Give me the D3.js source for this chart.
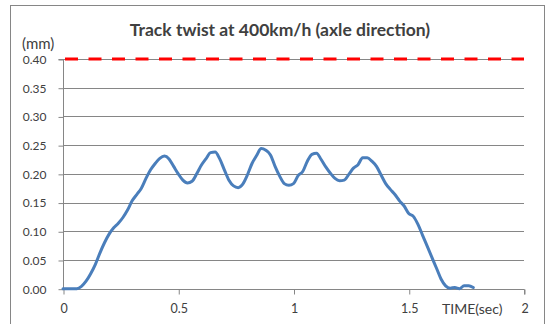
<!DOCTYPE html>
<html>
<head>
<meta charset="utf-8">
<script src="https://cdn.jsdelivr.net/npm/d3@7"></script>
<style>
  html, body { margin: 0; padding: 0; background: #fff; }
  svg { display: block; }
  text { font-family: Lato, "Open Sans", sans-serif; fill: #404040; }
</style>
</head>
<body>
<svg id="chart" width="546" height="324"></svg>
<script>
// Track twist (mm) sampled against time (s)
const timeSec = [0, 0.06, 0.08, 0.10, 0.12, 0.14, 0.16, 0.18, 0.20, 0.22, 0.24, 0.26, 0.28, 0.30,
  0.32, 0.34, 0.36, 0.38, 0.40, 0.42, 0.44, 0.46, 0.48, 0.50, 0.52, 0.54, 0.56, 0.58, 0.60,
  0.62, 0.64, 0.66, 0.68, 0.70, 0.72, 0.74, 0.76, 0.78, 0.80, 0.82, 0.84, 0.86, 0.88, 0.90,
  0.92, 0.94, 0.96, 0.98, 1.00, 1.02, 1.04, 1.06, 1.08, 1.10, 1.12, 1.14, 1.16, 1.18, 1.20,
  1.22, 1.24, 1.26, 1.28, 1.30, 1.32, 1.34, 1.36, 1.38, 1.40, 1.42, 1.44, 1.46, 1.48, 1.50,
  1.52, 1.54, 1.56, 1.58, 1.60, 1.62, 1.64, 1.66, 1.68, 1.70, 1.72, 1.74, 1.76, 1.78];
const twistMm = [0, 0.000, 0.004, 0.013, 0.026, 0.042, 0.062, 0.080, 0.095, 0.106, 0.114, 0.124, 0.137, 0.153,
  0.164, 0.175, 0.192, 0.207, 0.218, 0.227, 0.231, 0.226, 0.213, 0.200, 0.189, 0.184, 0.187, 0.200, 0.215,
  0.226, 0.237, 0.238, 0.226, 0.207, 0.189, 0.179, 0.176, 0.182, 0.198, 0.218, 0.232, 0.244, 0.241, 0.233,
  0.213, 0.196, 0.183, 0.180, 0.183, 0.197, 0.204, 0.222, 0.234, 0.236, 0.225, 0.212, 0.201, 0.192, 0.188,
  0.189, 0.199, 0.210, 0.216, 0.228, 0.228, 0.222, 0.213, 0.198, 0.183, 0.173, 0.164, 0.153, 0.144, 0.131,
  0.126, 0.112, 0.093, 0.074, 0.055, 0.036, 0.017, 0.005, 0.001, 0.002, 0.000, 0.005, 0.005, 0.002];

// Allowable limit line
const limitMm = 0.40;

const xTicks = [0, 0.5, 1, 1.5, 2];
const xTickLabels = ["0", "0.5", "1", "1.5", "2"];
const yTicks = [0, 0.05, 0.10, 0.15, 0.20, 0.25, 0.30, 0.35, 0.40];

const titleText = "Track twist at 400km/h (axle direction)";
const yUnitText = "(mm)";
const xTitleText = "TIME(sec)";

const svg = d3.select("#chart");
const axisGrey = "#868686";

// Outer frame of the chart area
svg.append("rect")
  .attr("x", 10.5).attr("y", 5.5)
  .attr("width", 534).attr("height", 330)
  .attr("fill", "none").attr("stroke", axisGrey).attr("stroke-width", 1);

const plot = { left: 63, right: 524, top: 59, bottom: 288.7 };

const x = d3.scaleLinear().domain([0, 2]).range([plot.left, plot.right]);
const y = d3.scaleLinear().domain([0, 0.40]).range([plot.bottom, plot.top]);

// Horizontal gridlines
svg.append("g")
  .selectAll("line")
  .data(yTicks.filter(d => d > 0))
  .join("line")
  .attr("x1", plot.left).attr("x2", plot.right)
  .attr("y1", d => Math.round(y(d)) + 0.5).attr("y2", d => Math.round(y(d)) + 0.5)
  .attr("stroke", axisGrey).attr("stroke-width", 1);

// Y axis
const yAxis = d3.axisLeft(y).tickValues(yTicks).tickFormat(d3.format(".2f")).tickSize(5).tickPadding(12);
const gy = svg.append("g").attr("transform", `translate(${plot.left + 0.5},0.5)`).call(yAxis);
gy.select(".domain").attr("stroke", axisGrey).attr("d", `M-5,${y(0.40)}H0V${y(0)}`);
gy.selectAll(".tick line").attr("stroke", axisGrey);
gy.selectAll(".tick text")
  .attr("font-size", 12)
  .attr("font-family", "Lato, sans-serif")
  .attr("fill", "#404040");

// X axis
const xAxis = d3.axisBottom(x).tickValues(xTicks).tickFormat((d, i) => xTickLabels[i]).tickSize(5).tickPadding(10);
const gx = svg.append("g").attr("transform", `translate(0.5,${Math.round(plot.bottom) + 0.5})`).call(xAxis);
gx.select(".domain").attr("stroke", axisGrey).attr("d", `M${x(0)},0H${x(2)}V5`);
gx.selectAll(".tick line").attr("stroke", axisGrey);
gx.selectAll(".tick text")
  .attr("font-size", 12.5)
  .attr("font-family", "Lato, sans-serif")
  .attr("fill", "#404040");

// Limit line (red dashes)
svg.append("line")
  .attr("x1", plot.left + 2).attr("x2", plot.right)
  .attr("y1", y(limitMm)).attr("y2", y(limitMm))
  .attr("stroke", "#ff0000").attr("stroke-width", 3.2)
  .attr("stroke-dasharray", "13 10.5");

// Twist trace
const series = timeSec.map((t, i) => ({ t, v: twistMm[i] }));
const line = d3.line().x(d => x(d.t)).y(d => y(d.v)).curve(d3.curveMonotoneX);
svg.append("path")
  .datum(series)
  .attr("d", line)
  .attr("fill", "none")
  .attr("stroke", "#4a7ebb")
  .attr("stroke-width", 3)
  .attr("stroke-linejoin", "round")
  .attr("stroke-linecap", "round");

// Titles
svg.append("text")
  .attr("x", 280).attr("y", 36)
  .attr("text-anchor", "middle")
  .attr("font-size", 17.5).attr("font-weight", "bold")
  .attr("fill", "#000")
  .text(titleText);

svg.append("text")
  .attr("x", 22).attr("y", 48.5)
  .attr("font-size", 15)
  .text(yUnitText);

svg.append("text")
  .attr("x", 442).attr("y", 314)
  .attr("font-size", 14)
  .text(xTitleText);
</script>
</body>
</html>
